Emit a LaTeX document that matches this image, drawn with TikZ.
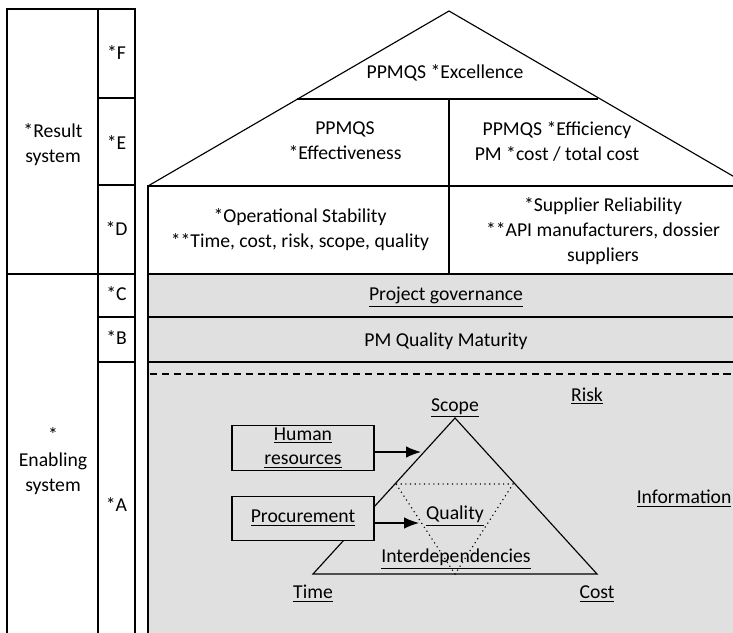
\documentclass[tikz,border=0pt]{standalone}
\usepackage{fontspec}
\setmainfont{Carlito}
\usetikzlibrary{arrows.meta,positioning}

\newcommand{\lnk}[1]{\underline{#1}}

\tikzset{
  lbl/.style={font=\fontsize{11.2}{14.2}\selectfont, align=center, inner sep=0pt},
  pbox/.style={lbl, draw, fill=housegray, minimum width=2.84cm, minimum height=0.89cm},
  arr/.style={-{Latex[length=8.5pt,width=6.5pt]}}
}
\definecolor{housegray}{RGB}{224,224,224}

\begin{document}
\begin{tikzpicture}[x=0.02cm, y=-0.02cm, line width=0.65pt]
    \useasboundingbox (0,0) rectangle (733,632);
    \clip (0,0) rectangle (733,632);

    % left columns
    \draw (7,9) rectangle (135,640);
    \draw (98,9) -- (98,640);
    \draw (7,274) -- (135,274);
    \foreach \y in {98,185,317,362}
        \draw (98,\y) -- (135,\y);
    \node[lbl] (res) at (53,145) {*Result\\system};
    \node[lbl] (ena) at (53,461) {*\\Enabling\\system};
    \foreach \t/\y in {F/53,E/143,D/229,C/294,B/338,A/505}
        \node[lbl] (l\t) at (116.5,\y) {*\t};

    % house
    \fill[housegray] (148,274) rectangle (745,640);
    \draw (148,640) -- (148,186) -- (745,186);
    \draw (148,186) -- (449,11) -- (750,186);
    \draw (297,99) -- (598,99);
    \draw (449,99) -- (449,274);
    \foreach \y in {274,317,362}
        \draw (148,\y) -- (745,\y);
    \draw[dash pattern=on 4pt off 2.8pt] (150,374) -- (745,374);

    \node[lbl] (exc) at (445,73) {PPMQS *Excellence};
    \node[lbl] (eff) at (345,141) {PPMQS\\*Effectiveness};
    \node[lbl] (efi) at (557,141) {PPMQS *Efficiency\\PM *cost / total cost};
    \node[lbl] (ops) at (300,230) {*Operational Stability\\**Time, cost, risk, scope, quality};
    \node[lbl] (sup) at (603,231) {*Supplier Reliability\\**API manufacturers, dossier\\suppliers};
    \node[lbl] (gov) at (446,297) {\lnk{Project governance}};
    \node[lbl] (mat) at (446,341) {PM Quality Maturity};

    % triangle
    \coordinate (sc) at (455,418);
    \coordinate (ti) at (313,574);
    \coordinate (co) at (597,574);
    \draw (sc) -- (ti) -- (co) -- cycle;
    \draw[dotted] (396,484) -- (513,484) -- (455,574) -- cycle;

    \node[lbl] (scope) at (455,408) {\lnk{Scope}};
    \node[lbl] (risk) at (587,396) {\lnk{Risk}};
    \node[lbl] (time) at (313,594) {\lnk{Time}};
    \node[lbl] (cost) at (597,594) {\lnk{Cost}};
    \node[lbl] (qual) at (455,516) {\lnk{Quality}};
    \node[lbl] (inter) at (456,559) {\lnk{Interdependencies}};
    \node[lbl, anchor=east] (info) at (732,499) {\lnk{Information}};

    \node[pbox] (hr) at (303,448) {\lnk{Human}\\\lnk{resources}};
    \node[pbox] (proc) at (303,518.5) {\lnk{Procurement}};

    \coordinate (hrend) at (421,452);
    \coordinate (procend) at (419,523);
    \draw[arr] (hr.east |- hrend) -- (hrend);
    \draw[arr] (proc.east |- procend) -- (procend);
\end{tikzpicture}
\end{document}
